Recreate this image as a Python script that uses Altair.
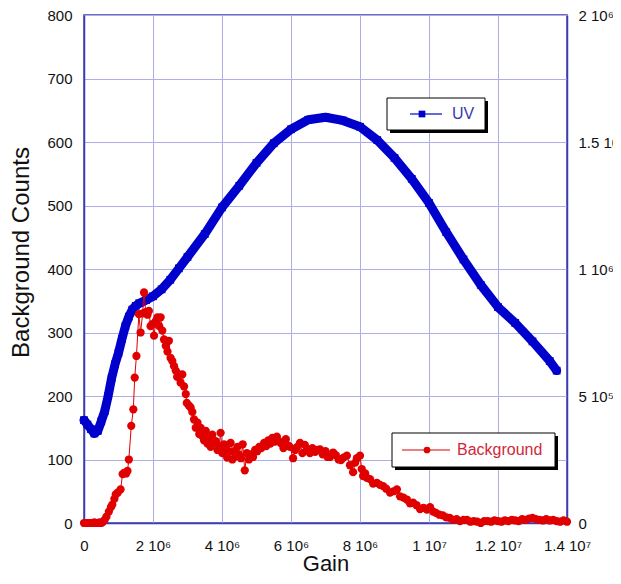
import altair as alt
import pandas as pd

# ---------------- data (gain in units of 1e6) ----------------
uv_gain = [0.0, 0.1, 0.2, 0.3, 0.4, 0.5, 0.6, 0.7, 0.8, 0.9, 1.0, 1.1, 1.2, 1.3,
           1.4, 1.5, 1.6, 1.8, 2.0, 2.25, 2.5, 2.75, 3.0, 3.5, 4.0, 4.5, 5.0, 5.5,
           6.0, 6.5, 7.0, 7.5, 8.0, 8.5, 9.0, 9.5, 10.0, 10.5, 11.0, 11.5, 12.0,
           12.5, 13.0, 13.5, 13.7]
uv_signal = [405000, 387500, 370000, 352500, 362500, 400000, 440000, 500000,
             570000, 625000, 670000, 725000, 775000, 812500, 840000, 855000,
             865000, 877500, 892500, 920000, 957500, 1002500, 1047500, 1137500,
             1242500, 1327500, 1417500, 1495000, 1550000, 1587500, 1597500,
             1585000, 1560000, 1507500, 1437500, 1355000, 1260000, 1145000,
             1037500, 937500, 850000, 787500, 715000, 637500, 600000]

bg_gain = [0.00, 0.05, 0.10, 0.15, 0.20, 0.25, 0.30, 0.35, 0.40, 0.45, 0.50, 0.55,
           0.60, 0.65, 0.72, 0.78, 0.82, 0.88, 0.92, 0.98, 1.06, 1.12, 1.16, 1.22,
           1.26, 1.30, 1.37, 1.43, 1.47, 1.52, 1.59, 1.64, 1.70, 1.74, 1.79, 1.84,
           1.88, 1.93, 1.98, 2.03, 2.08, 2.13, 2.18, 2.22, 2.27, 2.32, 2.37, 2.42,
           2.46, 2.51, 2.56, 2.61, 2.66, 2.70, 2.75, 2.80, 2.85, 2.90, 2.95, 2.98,
           3.04, 3.09, 3.14, 3.19, 3.24, 3.29, 3.34, 3.38, 3.43, 3.48, 3.53, 3.58,
           3.62, 3.67, 3.72, 3.77, 3.82, 3.87, 3.92, 3.96, 4.01, 4.06, 4.11, 4.15,
           4.20, 4.25, 4.30, 4.35, 4.40, 4.45, 4.49, 4.55, 4.60, 4.66, 4.72, 4.78,
           4.83, 4.90, 4.96, 5.02, 5.08, 5.14, 5.22, 5.28, 5.34, 5.40, 5.46, 5.52,
           5.59, 5.65, 5.70, 5.78, 5.85, 5.92, 5.97, 6.06, 6.12, 6.18, 6.26, 6.33,
           6.40, 6.47, 6.55, 6.62, 6.70, 6.78, 6.84, 6.92, 7.00, 7.06, 7.13, 7.22,
           7.30, 7.38, 7.45, 7.52, 7.62, 7.71, 7.80, 7.86, 7.91, 8.00, 8.05, 8.09,
           8.15, 8.20, 8.29, 8.38, 8.49, 8.58, 8.67, 8.76, 8.87, 8.97, 9.07, 9.16,
           9.26, 9.36, 9.45, 9.54, 9.64, 9.74, 9.84, 9.94, 10.03, 10.12, 10.2, 10.3,
           10.4, 10.5, 10.6, 10.7, 10.8, 10.9, 11.0, 11.1, 11.2, 11.3, 11.4, 11.5,
           11.6, 11.7, 11.8, 11.9, 12.0, 12.1, 12.2, 12.3, 12.4, 12.5, 12.6, 12.7,
           12.8, 12.9, 13.0, 13.1, 13.2, 13.3, 13.4, 13.5, 13.6, 13.7, 13.8, 13.9,
           14.0]
bg_counts = [0, 0, 0, 0, 0, 0, 1, 0, 0, 1, 0, 2,
             5, 10, 18, 25, 29, 38, 45, 48, 53, 77, 79, 78,
             82, 100, 153, 179, 229, 263, 329, 300, 330, 363, 332, 328,
             334, 310, 313, 295, 318, 324, 310, 324, 303, 289, 279, 270,
             287, 260, 255, 247, 240, 230, 234, 221, 234, 215, 203, 189,
             185, 182, 175, 163, 150, 158, 140, 150, 137, 130, 145, 125,
             134, 120, 139, 126, 129, 115, 122, 142, 110, 124, 118, 103,
             112, 126, 100, 113, 105, 120, 108, 102, 124, 83, 110, 100,
             108, 104, 115, 113, 120, 118, 126, 121, 130, 125, 134, 128,
             136, 129, 126, 118, 132, 122, 120, 102, 115, 120, 126, 110,
             123, 116, 110, 118, 112, 115, 116, 108, 113, 104, 104, 111,
             107, 100, 99, 103, 106, 91, 80, 95, 102, 106, 85, 74,
             78, 71, 69, 62, 63, 60, 58, 54, 48, 50, 53, 42,
             40, 37, 31, 32, 28, 22, 24, 21, 25, 18, 16, 13,
             12, 9, 8, 5, 6, 3, 5, 5, 2, 3, 2, 0,
             3, 3, 2, 4, 3, 2, 4, 3, 5, 4, 3, 6,
             5, 7, 8, 6, 5, 4, 6, 4, 5, 3, 2, 4,
             2]

x_ticks = [0, 2, 4, 6, 8, 10, 12, 14]
left_ticks = [0, 100, 200, 300, 400, 500, 600, 700, 800]
right_ticks = [0, 500000, 1000000, 1500000, 2000000]
legend_labels = ["UV", "Background"]

BLUE = "#0000cc"
RED = "#e00000"
AXIS_BLUE = "#3c3cb4"
GRID = "#adadea"
FONT = "Liberation Sans"

uv_df = pd.DataFrame({"gain": uv_gain, "uv": uv_signal})
bg_df = pd.DataFrame({"gain": bg_gain, "counts": bg_counts})

x_enc = alt.X(
    "gain:Q",
    scale=alt.Scale(domain=[0, 14], nice=False, zero=False),
    axis=alt.Axis(
        values=x_ticks,
        labelExpr="datum.value == 0 ? '0' : (datum.value < 10 ? datum.value + ' 10⁶' : (datum.value / 10) + ' 10⁷')",
        title="Gain",
        titleFontSize=22,
        titleBaseline="alphabetic",
        titleY=47,
        grid=True,
        labelPadding=15,
        labelFlush=False,
        labelOverlap=False,
    ),
)

uv_y = alt.Y(
    "uv:Q",
    scale=alt.Scale(domain=[0, 2000000], nice=False),
    axis=alt.Axis(
        orient="right",
        values=right_ticks,
        labelExpr="datum.value == 0 ? '0' : (datum.value < 1000000 ? (datum.value / 100000) + ' 10⁵' : (datum.value / 1000000) + ' 10⁶')",
        title=None,
        grid=False,
        labelPadding=11,
        labelFlush=False,
        labelOverlap=False,
    ),
)

bg_y = alt.Y(
    "counts:Q",
    scale=alt.Scale(domain=[0, 800], nice=False),
    axis=alt.Axis(
        orient="left",
        values=left_ticks,
        title="Background Counts",
        titleFontSize=24,
        titleAngle=270,
        titleAlign="center",
        titleBaseline="middle",
        titleX=-63,
        titleY=237,
        grid=True,
        labelPadding=12,
        labelFlush=False,
        labelOverlap=False,
    ),
)

uv_base = alt.Chart(uv_df).encode(x=x_enc, y=uv_y)
uv_layer = alt.layer(
    uv_base.mark_line(color=BLUE, strokeWidth=9, strokeCap="round", strokeJoin="round"),
    uv_base.mark_square(color=BLUE, size=60, opacity=1),
)

bg_base = alt.Chart(bg_df).encode(x=x_enc, y=bg_y)
bg_layer = alt.layer(
    bg_base.mark_line(color=RED, strokeWidth=1),
    bg_base.mark_circle(color=RED, size=68, opacity=1),
)

one = alt.Data(values=[{}])

def box(x0, x1, y0, y1):
    shadow = alt.Chart(one).mark_rect(color="#000000").encode(
        x=alt.value(x0 + 3), x2=alt.value(x1 + 3), y=alt.value(y0 + 3), y2=alt.value(y1 + 3))
    face = alt.Chart(one).mark_rect(fill="#ffffff", stroke="#000000", strokeWidth=1).encode(
        x=alt.value(x0), x2=alt.value(x1), y=alt.value(y0), y2=alt.value(y1))
    return [shadow, face]

uv_leg = box(303, 401, 83, 115) + [
    alt.Chart(one).mark_rule(color=BLUE, strokeWidth=1.2).encode(
        x=alt.value(326), x2=alt.value(358), y=alt.value(99)),
    alt.Chart(one).mark_square(color=BLUE, size=45, opacity=1).encode(
        x=alt.value(338), y=alt.value(99)),
    alt.Chart(one).mark_text(align="left", baseline="middle", font=FONT, fontSize=16,
                             color="#3a3aa8").encode(
        x=alt.value(368), y=alt.value(99), text=alt.value(legend_labels[0])),
]

bg_leg = box(308, 471, 418, 452) + [
    alt.Chart(one).mark_rule(color=RED, strokeWidth=1.2).encode(
        x=alt.value(318), x2=alt.value(366), y=alt.value(435)),
    alt.Chart(one).mark_circle(color=RED, size=45, opacity=1).encode(
        x=alt.value(343), y=alt.value(435)),
    alt.Chart(one).mark_text(align="left", baseline="middle", font=FONT, fontSize=16,
                             color="#d02838").encode(
        x=alt.value(373), y=alt.value(435), text=alt.value(legend_labels[1])),
]

chart = (
    alt.layer(uv_layer, bg_layer, *uv_leg, *bg_leg)
    .resolve_scale(y="independent")
    .properties(
        width=483,
        height=508,
        autosize=alt.AutoSizeParams(type="none"),
        padding={"left": 76, "top": 7, "right": 46, "bottom": 52},
        background="#ffffff",
    )
    .configure_view(stroke=AXIS_BLUE, strokeWidth=1.5)
    .configure_axis(
        domainColor=AXIS_BLUE,
        domainWidth=1.5,
        gridColor=GRID,
        gridWidth=1,
        gridOpacity=1,
        ticks=False,
        labelFont=FONT,
        labelFontSize=15,
        labelColor="#111111",
        titleFont=FONT,
        titleFontWeight="normal",
        titleColor="#111111",
    )
)

chart.save("out.html", embed_options={"renderer": "svg", "actions": False})
